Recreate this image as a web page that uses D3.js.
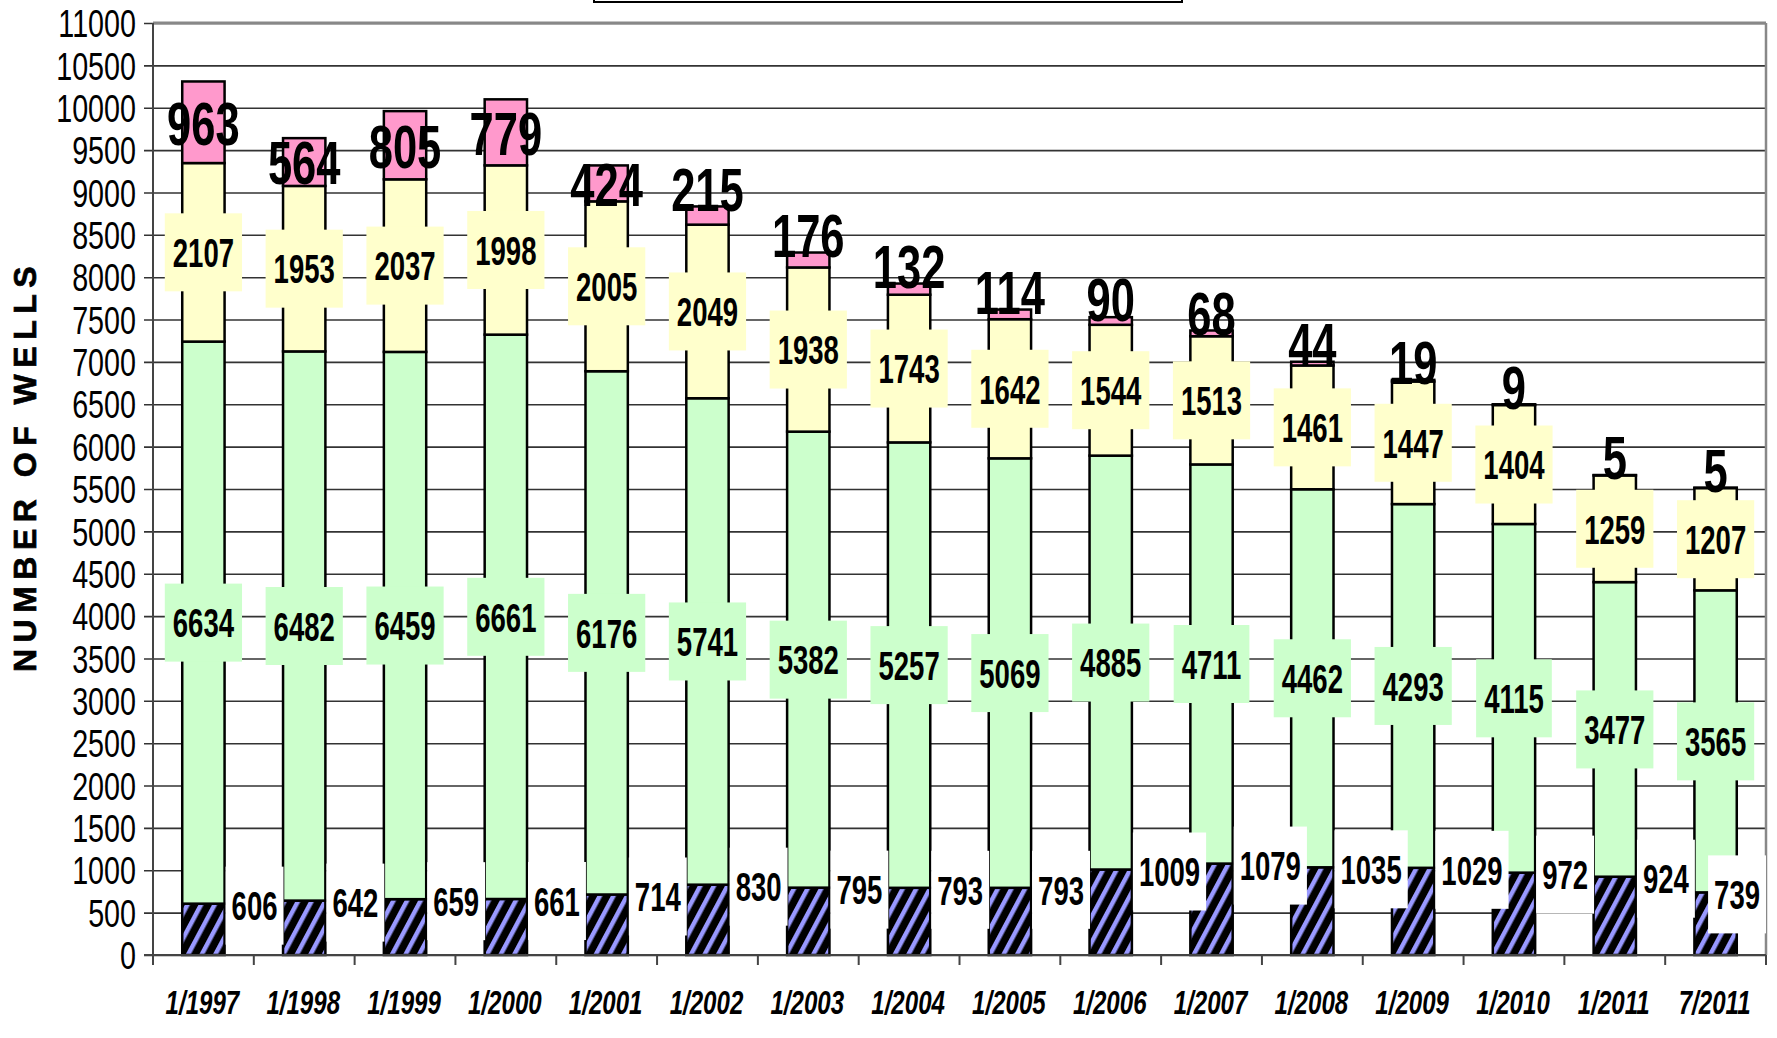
<!DOCTYPE html>
<html>
<head>
<meta charset="utf-8">
<script src="https://cdn.jsdelivr.net/npm/d3@7"></script>
<style>
  body { margin: 0; background: #fff; }
  svg { display: block; }
  text { font-family: "Liberation Sans", Arial, sans-serif; }
</style>
</head>
<body>
<div id="chart"></div>
<script>
// data
var dates = ["1/1997", "1/1998", "1/1999", "1/2000", "1/2001", "1/2002", "1/2003", "1/2004",
             "1/2005", "1/2006", "1/2007", "1/2008", "1/2009", "1/2010", "1/2011", "7/2011"];
var bottomVals = [606, 642, 659, 661, 714, 830, 795, 793, 793, 1009, 1079, 1035, 1029, 972, 924, 739];
var greenVals = [6634, 6482, 6459, 6661, 6176, 5741, 5382, 5257, 5069, 4885, 4711, 4462, 4293, 4115, 3477, 3565];
var yellowVals = [2107, 1953, 2037, 1998, 2005, 2049, 1938, 1743, 1642, 1544, 1513, 1461, 1447, 1404, 1259, 1207];
var pinkVals = [963, 564, 805, 779, 424, 215, 176, 132, 114, 90, 68, 44, 19, 9, 5, 5];
var yTicks = d3.range(0, 11001, 500);

//Define SVG area
var svgWidth = 1777;
var svgHeight = 1038;

var plotLeft = 153, plotRight = 1766, plotTop = 23, plotBottom = 955;

var svg = d3.select("#chart")
    .append("svg")
    .attr("width", svgWidth)
    .attr("height", svgHeight);

// hatch pattern for the bottom series
var defs = svg.append("defs");
var pat = defs.append("pattern")
    .attr("id", "hatch")
    .attr("patternUnits", "userSpaceOnUse")
    .attr("width", 12)
    .attr("height", 12)
    .attr("patternTransform", "rotate(28)");
pat.append("rect").attr("width", 12).attr("height", 12).attr("fill", "#000");
pat.append("rect").attr("width", 4.5).attr("height", 12).attr("fill", "#9999ff");

//Scales
var x = d3.scaleBand()
    .domain(dates)
    .range([plotLeft, plotRight])
    .paddingInner(0.58)
    .paddingOuter(0.29);

var xOuter = d3.scaleBand()
    .domain(dates)
    .range([plotLeft, plotRight])
    .padding(0);

var y = d3.scaleLinear()
    .domain([0, 11000])
    .range([plotBottom, plotTop]);

// gridlines + y axis
var yAxis = svg.append("g")
    .attr("transform", `translate(${plotLeft},0)`)
    .call(d3.axisLeft(y).tickValues(yTicks).tickSize(-(plotRight - plotLeft)).tickSizeOuter(0).tickFormat(d3.format("d")));

yAxis.select(".domain").remove();
yAxis.selectAll(".tick line")
    .attr("x1", -9)
    .attr("stroke", "#333")
    .attr("stroke-width", 1.6);
yAxis.selectAll(".tick text")
    .attr("x", 0)
    .attr("dy", "0.36em")
    .attr("font-size", 33)
    .attr("font-family", "Liberation Sans, Arial, sans-serif")
    .attr("fill", "#000")
    .attr("transform", "translate(-17,0) scale(0.87,1.15)");

// plot area border (top, right)
svg.append("line")
    .attr("x1", plotLeft).attr("x2", plotRight)
    .attr("y1", plotTop).attr("y2", plotTop)
    .attr("stroke", "#888").attr("stroke-width", 3);
svg.append("line")
    .attr("x1", plotRight).attr("x2", plotRight)
    .attr("y1", plotTop).attr("y2", plotBottom)
    .attr("stroke", "#888").attr("stroke-width", 2.5);

// stack the four series
var rows = dates.map(function(d, i) {
    return { date: d, bottom: bottomVals[i], green: greenVals[i], yellow: yellowVals[i], pink: pinkVals[i] };
});
var keys = ["bottom", "green", "yellow", "pink"];
var fills = { bottom: "url(#hatch)", green: "#ccffcc", yellow: "#ffffcc", pink: "#ff99cc" };
var stacked = d3.stack().keys(keys)(rows);

var barGroup = svg.append("g");
stacked.forEach(function(series) {
    barGroup.selectAll(null)
        .data(series)
        .enter()
        .append("rect")
        .attr("x", d => x(d.data.date))
        .attr("y", d => y(d[1]))
        .attr("width", x.bandwidth())
        .attr("height", d => y(d[0]) - y(d[1]))
        .attr("fill", fills[series.key])
        .attr("stroke", "#000")
        .attr("stroke-width", 2.5);
});

// x axis line and ticks at band edges
svg.append("line")
    .attr("x1", plotLeft - 9).attr("x2", plotRight)
    .attr("y1", plotBottom).attr("y2", plotBottom)
    .attr("stroke", "#444").attr("stroke-width", 2);
svg.append("line")
    .attr("x1", plotLeft).attr("x2", plotLeft)
    .attr("y1", plotTop).attr("y2", plotBottom + 10)
    .attr("stroke", "#444").attr("stroke-width", 2);
var edges = dates.map(d => xOuter(d)).concat([plotRight]);
svg.append("g").selectAll("line")
    .data(edges)
    .enter()
    .append("line")
    .attr("x1", d => d).attr("x2", d => d)
    .attr("y1", plotBottom).attr("y2", plotBottom + 10)
    .attr("stroke", "#444").attr("stroke-width", 2);

// x labels
svg.append("g").selectAll("text")
    .data(dates)
    .enter()
    .append("text")
    .attr("transform", d => `translate(${xOuter(d) + xOuter.bandwidth() / 2 - 1},1014) scale(0.86,1.2)`)
    .attr("text-anchor", "middle")
    .attr("font-size", 28)
    .attr("font-weight", "bold")
    .attr("font-style", "italic")
    .text(d => d);

// y axis title
svg.append("text")
    .attr("transform", "translate(36,466) rotate(-90)")
    .attr("text-anchor", "middle")
    .attr("font-size", 32)
    .attr("font-weight", "bold")
    .attr("letter-spacing", 6.5)
    .attr("stroke", "#000")
    .attr("stroke-width", 0.7)
    .text("NUMBER OF WELLS");

// labels
var labelGroup = svg.append("g");
var labSx = 0.86, labSy = 1.28;

function boxedLabel(cx, cy, val, fill, leftEdge) {
    var g = labelGroup.append("g");
    var r = g.append("rect").attr("fill", fill);
    var t = g.append("text")
        .attr("text-anchor", "middle")
        .attr("font-size", 32)
        .attr("font-weight", "bold")
        .attr("dy", "0.36em")
        .text(val);
    var tw = t.node().getComputedTextLength() * labSx;
    var w = tw + (leftEdge !== undefined ? 12 : 16);
    var left = cx - w / 2;
    if (leftEdge !== undefined) {
        left = Math.min(leftEdge, plotRight - w);
    }
    t.attr("transform", `translate(${left + w / 2},${cy}) scale(${labSx},${labSy})`);
    r.attr("x", left).attr("y", cy - 39).attr("width", w).attr("height", 78);
}

// bottom series: white boxes right of the bar
stacked[0].forEach(function(d) {
    boxedLabel(0, y(d[1]) + 2, d.data.bottom, "#fff", x(d.data.date) + x.bandwidth() + 1);
});
// green and yellow: centered in the segment
stacked[1].forEach(function(d) {
    boxedLabel(x(d.data.date) + x.bandwidth() / 2, y((d[0] + d[1]) / 2), d.data.green, "#ccffcc");
});
stacked[2].forEach(function(d) {
    boxedLabel(x(d.data.date) + x.bandwidth() / 2, y((d[0] + d[1]) / 2), d.data.yellow, "#ffffcc");
});
// pink: large figures, lifted above small segments
labelGroup.selectAll(".pinkLab")
    .data(stacked[3])
    .enter()
    .append("text")
    .attr("class", "pinkLab")
    .attr("text-anchor", "middle")
    .attr("font-size", 50)
    .attr("font-weight", "bold")
    .attr("dy", "0.36em")
    .attr("transform", function(d) {
        var cy = (d[1] - d[0]) < 300 ? y(d[1]) - 18 : y((d[0] + d[1]) / 2);
        return `translate(${x(d.data.date) + x.bandwidth() / 2},${cy}) scale(0.87,1.24)`;
    })
    .text(d => d.data.pink);

// legend box peeking in at the top edge
svg.append("rect")
    .attr("x", 594).attr("y", -12)
    .attr("width", 588).attr("height", 14)
    .attr("fill", "#fff")
    .attr("stroke", "#000")
    .attr("stroke-width", 2);
</script>
</body>
</html>
